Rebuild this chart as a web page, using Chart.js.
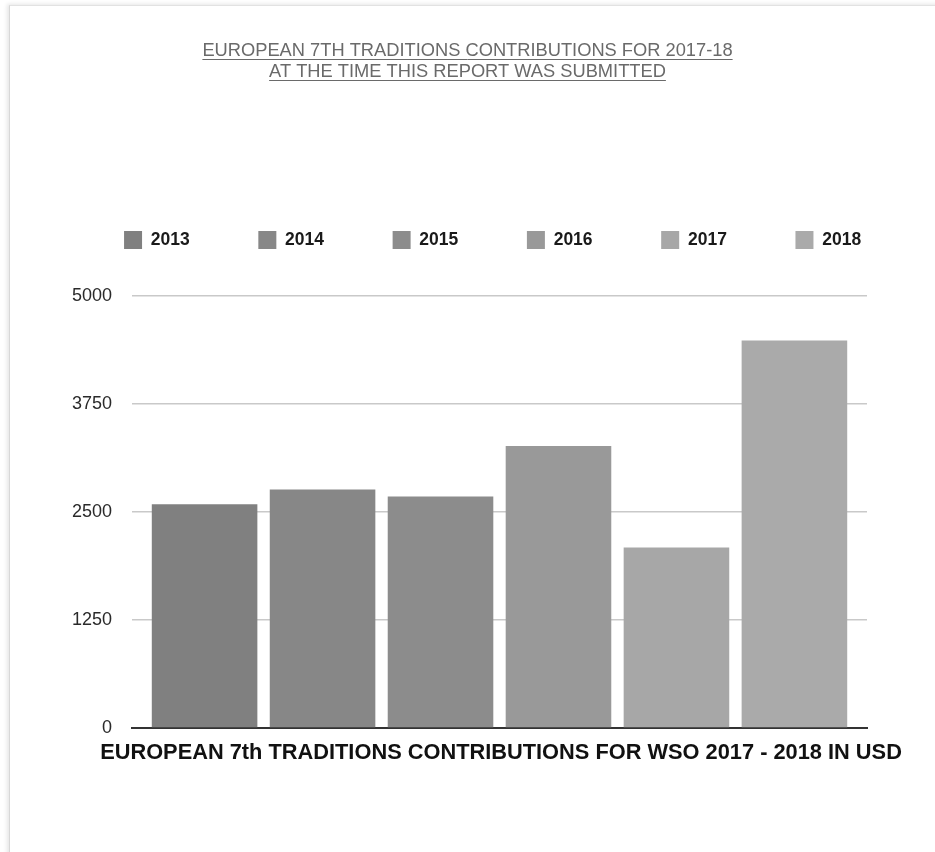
<!DOCTYPE html>
<html>
<head>
<meta charset="utf-8">
<script src="https://cdn.jsdelivr.net/npm/chart.js@4.4.1/dist/chart.umd.min.js"></script>
<style>
  html, body { margin: 0; padding: 0; background: #ffffff; width: 935px; height: 852px; overflow: hidden; }
  .frame { position: absolute; left: 9px; top: 5px; width: 940px; height: 860px;
           border-left: 1px solid #d8d8d8; border-top: 1px solid #e2e2e2;
           box-shadow: -2px -1px 4px rgba(0,0,0,0.10); background: #fff; }
  #c { position: absolute; left: 0; top: 0; }
</style>
</head>
<body>
<div class="frame"></div>
<canvas id="c" width="935" height="852"></canvas>
<script>
const titleLines = ['EUROPEAN 7TH TRADITIONS CONTRIBUTIONS FOR 2017-18', 'AT THE TIME THIS REPORT WAS SUBMITTED'];
const xAxisTitle = 'EUROPEAN 7th TRADITIONS CONTRIBUTIONS FOR WSO 2017 - 2018 IN USD';
const years = ['2013', '2014', '2015', '2016', '2017', '2018'];
const contributions = [2590, 2760, 2680, 3265, 2090, 4485];
const yTicks = [0, 1250, 2500, 3750, 5000];
const barColors = ['#808080', '#878787', '#8c8c8c', '#999999', '#a7a7a7', '#aaaaaa'];

const FAMILY = '"Liberation Sans", Arial, sans-serif';
const TITLE_FONT = { family: FAMILY, size: 18.3, lineHeight: 1.18 };
const TITLE_COLOR = '#6a6a6a';
const XTITLE_FONT = { family: FAMILY, size: 21.8, weight: 'bold' };

const underlinePlugin = {
  id: 'underlineTitle',
  afterDraw(chart) {
    const tb = chart.titleBlock;
    if (!tb) return;
    const ctx = chart.ctx;
    const lh = TITLE_FONT.size * TITLE_FONT.lineHeight;
    const cx = (tb.left + tb.right) / 2;
    ctx.save();
    ctx.font = TITLE_FONT.size + 'px ' + TITLE_FONT.family;
    ctx.strokeStyle = TITLE_COLOR;
    ctx.lineWidth = 1;
    titleLines.forEach((t, i) => {
      const w = ctx.measureText(t).width;
      const y = Math.round(tb.top + lh * (i + 0.5) + 8) + 0.5;
      ctx.beginPath();
      ctx.moveTo(cx - w / 2, y);
      ctx.lineTo(cx + w / 2, y);
      ctx.stroke();
    });
    ctx.restore();
  }
};

// x-axis title drawn centred under the plot area without width squeezing
const xTitlePlugin = {
  id: 'xAxisTitle',
  afterDraw(chart) {
    const a = chart.chartArea;
    const ctx = chart.ctx;
    ctx.save();
    ctx.font = XTITLE_FONT.weight + ' ' + XTITLE_FONT.size + 'px ' + XTITLE_FONT.family;
    ctx.fillStyle = '#111111';
    ctx.textAlign = 'center';
    ctx.textBaseline = 'middle';
    ctx.fillText(xAxisTitle, (a.left + a.right) / 2 + 1.5, a.bottom + 25);
    ctx.restore();
  }
};

// extra gap under the legend, and legend row shifted to sit like the original
const legendSpacing = {
  id: 'legendSpacing',
  beforeInit(chart) {
    const lg = chart.legend;
    if (!lg) return;
    const origFit = lg.fit;
    lg.fit = function () {
      origFit.call(this);
      this.height += 37;
    };
  },
  afterLayout(chart) {
    const lg = chart.legend;
    if (!lg) return;
    lg.left += 25.1;
    lg.right += 25.1;
  }
};

const datasets = years.map((y, i) => ({
  label: y,
  data: [contributions[i]],
  backgroundColor: barColors[i],
  borderColor: barColors[i],
  borderWidth: 0,
  categoryPercentage: 0.963,
  barPercentage: 0.895
}));

new Chart(document.getElementById('c'), {
  type: 'bar',
  data: { labels: [''], datasets },
  plugins: [underlinePlugin, xTitlePlugin, legendSpacing],
  options: {
    responsive: false,
    animation: false,
    devicePixelRatio: 1,
    layout: { padding: { top: 40, left: 0, right: 0, bottom: 116 } },
    plugins: {
      title: {
        display: true,
        text: titleLines,
        color: TITLE_COLOR,
        font: { family: TITLE_FONT.family, size: TITLE_FONT.size, weight: 'normal', lineHeight: TITLE_FONT.lineHeight },
        padding: { top: 0, bottom: 162.4 - 40 - 2 * 18.3 * 1.18 }
      },
      legend: {
        display: true,
        position: 'top',
        align: 'center',
        labels: {
          boxWidth: 18,
          boxHeight: 18,
          padding: 68.6,
          color: '#1a1a1a',
          font: { family: FAMILY, size: 17.5, weight: 'bold' }
        }
      },
      tooltip: { enabled: false }
    },
    scales: {
      x: {
        grid: { display: false },
        border: { display: true, color: '#333333', width: 2 },
        ticks: { display: false },
        title: { display: false, text: xAxisTitle }
      },
      y: {
        min: 0,
        max: 5000,
        afterBuildTicks: s => { s.ticks = yTicks.map(v => ({ value: v })); },
        afterFit: s => { s.width = 132; },
        border: { display: false },
        grid: {
          drawTicks: false,
          color: ctx => (ctx.tick && ctx.tick.value === 0) ? 'rgba(0,0,0,0)' : '#c9c9c9',
          lineWidth: 1.5
        },
        ticks: {
          padding: 20,
          color: '#2a2a2a',
          font: { family: FAMILY, size: 18 },
          callback: v => String(v)
        }
      },
      yRight: {
        position: 'right',
        display: true,
        grid: { display: false },
        border: { display: false },
        ticks: { display: false },
        afterFit: s => { s.width = 68; }
      }
    }
  }
});
</script>
</body>
</html>
